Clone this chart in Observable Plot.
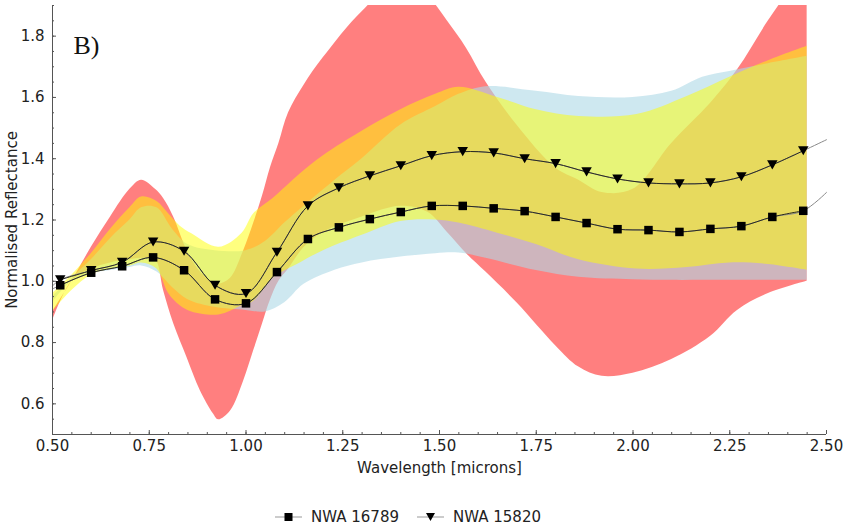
<!DOCTYPE html>
<html><head><meta charset="utf-8">
<script src="https://cdn.jsdelivr.net/npm/d3@7"></script>
<script src="https://cdn.jsdelivr.net/npm/@observablehq/plot@0.6"></script>
<style>
body{margin:0;background:#fff;font-family:"DejaVu Sans",sans-serif;}
#legend{height:33px;display:flex;align-items:center;padding-left:275px;padding-top:10px;font-size:15px;color:#222;}
.item{display:flex;align-items:center;margin-right:18px}
.item svg{margin-right:9px}
</style></head><body><div id="chart"></div><div id="legend"></div>
<script>
// Marker wavelengths (microns) and reflectance values
const wavelength = [0.52,0.60,0.68,0.76,0.84,0.92,1.00,1.08,1.16,1.24,1.32,1.40,1.48,1.56,1.64,1.72,1.80,1.88,1.96,2.04,2.12,2.20,2.28,2.36,2.44];
const nwa16789 = [0.987,1.028,1.049,1.078,1.036,0.941,0.928,1.030,1.138,1.176,1.203,1.226,1.246,1.246,1.238,1.229,1.210,1.190,1.170,1.167,1.161,1.171,1.180,1.210,1.230];
const nwa15820 = [1.005,1.035,1.062,1.128,1.098,0.987,0.960,1.095,1.246,1.305,1.344,1.377,1.410,1.423,1.419,1.400,1.384,1.357,1.334,1.321,1.318,1.321,1.341,1.380,1.426];
// spectrum end values
const specStart = 0.50, specEnd = 2.50;
const nwa16789Ends = [0.975, 1.29];
const nwa15820Ends = [0.985, 1.462];

// Envelope bands
const redX  = [0.50,0.55,0.60,0.65,0.70,0.73,0.766,0.787,0.813,0.848,0.882,0.916,0.929,0.96,0.994,1.02,1.043,1.063,1.085,1.11,1.15,1.20,1.30,1.40,1.47,1.52,1.57,1.62,1.70,1.80,1.86,1.92,2.00,2.10,2.20,2.27,2.35,2.45];
const redHi = [0.90,1.00,1.11,1.21,1.30,1.33,1.30,1.27,1.21,1.10,1.03,0.995,0.99,1.01,1.10,1.19,1.28,1.37,1.45,1.55,1.64,1.73,1.88,1.98,1.93,1.85,1.76,1.65,1.51,1.37,1.33,1.29,1.30,1.45,1.58,1.69,1.85,2.03];
const redLo = [0.87,1.00,1.04,1.06,1.07,1.075,1.07,0.97,0.862,0.75,0.643,0.567,0.548,0.577,0.675,0.774,0.862,0.938,1.00,1.04,1.11,1.16,1.21,1.245,1.225,1.16,1.09,1.03,0.93,0.79,0.72,0.69,0.70,0.745,0.82,0.905,0.96,1.00];

const blueX  = [0.50,0.55,0.60,0.65,0.70,0.73,0.77,0.81,0.85,0.92,1.00,1.05,1.10,1.15,1.23,1.30,1.40,1.49,1.55,1.62,1.75,1.86,2.00,2.10,2.18,2.25,2.35,2.45];
const blueHi = [0.95,1.01,1.07,1.14,1.20,1.24,1.24,1.17,1.12,1.10,1.10,1.13,1.19,1.245,1.33,1.40,1.51,1.57,1.61,1.635,1.62,1.603,1.60,1.62,1.666,1.685,1.71,1.734];
const blueLo = [0.93,1.00,1.025,1.035,1.045,1.05,1.03,0.98,0.94,0.915,0.905,0.90,0.93,0.99,1.036,1.06,1.079,1.09,1.092,1.075,1.035,1.013,1.005,1.003,1.003,1.003,1.003,1.003];

const yellowX  = [0.50,0.55,0.60,0.65,0.70,0.73,0.77,0.80,0.83,0.86,0.93,0.99,1.02,1.07,1.14,1.20,1.30,1.40,1.49,1.55,1.65,1.75,1.86,2.01,2.14,2.25,2.35,2.45];
const yellowHi = [0.96,1.02,1.09,1.17,1.24,1.275,1.26,1.22,1.18,1.155,1.111,1.157,1.22,1.27,1.35,1.41,1.49,1.56,1.61,1.633,1.60,1.56,1.538,1.544,1.603,1.666,1.72,1.767];
const yellowLo = [0.90,0.97,1.02,1.04,1.05,1.06,1.04,0.96,0.92,0.90,0.89,0.92,0.935,1.01,1.06,1.10,1.15,1.195,1.20,1.19,1.157,1.12,1.07,1.04,1.045,1.06,1.055,1.036];

// Ticks
const xTicks = [0.50,0.75,1.00,1.25,1.50,1.75,2.00,2.25,2.50];
const yTicks = [0.6,0.8,1.0,1.2,1.4,1.6,1.8];
const xMinor = d3.range(0.5, 2.5001, 0.05);
const yMinor = d3.range(0.5, 1.9001, 0.05);

const band = (xs, lo, hi) => xs.map((x, i) => ({x, lo: lo[i], hi: hi[i]}));
const pts = (xs, ys) => xs.map((x, i) => ({x, y: ys[i]}));
const full = (vals, ends) => pts([specStart, ...wavelength, specEnd], [ends[0], ...vals, ends[1]]);

const triangleDown = {draw(ctx, size) {
  const y = Math.sqrt(size / (Math.sqrt(3) * 3)), w = Math.sqrt(3) * y;
  ctx.moveTo(0, 1.5 * y); ctx.lineTo(-w, -1.5 * y); ctx.lineTo(w, -1.5 * y); ctx.closePath();
}};

const axisColor = "#555";
const chart = Plot.plot({
  width: 853, height: 490,
  marginLeft: 52, marginRight: 27, marginTop: 5, marginBottom: 56,
  style: {fontFamily: "DejaVu Sans", fontSize: "15px", color: "#222", background: "#fff"},
  x: {domain: [0.5, 2.5]},
  y: {domain: [0.5, 1.9]},
  marks: [
    Plot.areaY(band(redX, redLo, redHi), {x: "x", y1: "lo", y2: "hi", fill: "red", fillOpacity: 0.5, curve: "catmull-rom", clip: true}),
    Plot.areaY(band(blueX, blueLo, blueHi), {x: "x", y1: "lo", y2: "hi", fill: "lightblue", fillOpacity: 0.6, curve: "catmull-rom", clip: true}),
    Plot.areaY(band(yellowX, yellowLo, yellowHi), {x: "x", y1: "lo", y2: "hi", fill: "yellow", fillOpacity: 0.5, curve: "catmull-rom", clip: true}),
    Plot.line(full(nwa16789, nwa16789Ends), {x: "x", y: "y", stroke: "#8a8a8a", strokeWidth: 1, curve: "catmull-rom"}),
    Plot.line(full(nwa15820, nwa15820Ends), {x: "x", y: "y", stroke: "#8a8a8a", strokeWidth: 1, curve: "catmull-rom"}),
    Plot.line(pts(wavelength, nwa16789), {x: "x", y: "y", stroke: "#2b2b1e", strokeWidth: 1, curve: "catmull-rom"}),
    Plot.line(pts(wavelength, nwa15820), {x: "x", y: "y", stroke: "#2b2b1e", strokeWidth: 1, curve: "catmull-rom"}),
    Plot.dot(pts(wavelength, nwa16789), {x: "x", y: "y", symbol: "square", r: 4.8, fill: "black"}),
    Plot.dot(pts(wavelength, nwa15820), {x: "x", y: "y", symbol: triangleDown, r: 3.9, fill: "black"}),
    Plot.ruleX([0.5], {stroke: axisColor}),
    Plot.ruleY([0.5], {stroke: axisColor}),
    Plot.axisX({ticks: xMinor, tickSize: -2, tickFormat: () => "", label: null, stroke: axisColor}),
    Plot.axisY({ticks: yMinor, tickSize: -2, tickFormat: () => "", label: null, stroke: axisColor}),
    Plot.axisX({ticks: xTicks, tickSize: -4, tickPadding: 10, tickFormat: d3.format(".2f"), stroke: axisColor, fill: "#222",
      label: "Wavelength [microns]", labelAnchor: "center", labelOffset: 38, labelArrow: "none"}),
    Plot.axisY({ticks: yTicks, tickSize: -4, tickPadding: 12, tickFormat: d3.format(".1f"), stroke: axisColor, fill: "#222",
      label: "Normalised Reflectance", labelAnchor: "center", labelOffset: 46, labelArrow: "none"}),
    Plot.text(["B)"], {frameAnchor: "top-left", dx: 21, dy: 30, text: d => d, fontFamily: "Liberation Serif", fontSize: 26, textAnchor: "start", fill: "#111"})
  ]
});
document.getElementById("chart").append(chart);

// Legend
const legendItems = [{name: "NWA 16789", sym: "square"}, {name: "NWA 15820", sym: "tri"}];
const legend = d3.select("#legend");
for (const it of legendItems) {
  const item = legend.append("div").attr("class", "item");
  const s = item.append("svg").attr("width", 27).attr("height", 14);
  s.append("line").attr("x1", 0).attr("x2", 27).attr("y1", 7).attr("y2", 7).attr("stroke", "#999").attr("stroke-width", 1);
  if (it.sym === "square") s.append("rect").attr("x", 9.5).attr("y", 3).attr("width", 8).attr("height", 8).attr("fill", "black");
  else s.append("path").attr("d", "M9,3 L18,3 L13.5,11 Z").attr("fill", "black");
  item.append("span").text(it.name);
}
</script></body></html>
